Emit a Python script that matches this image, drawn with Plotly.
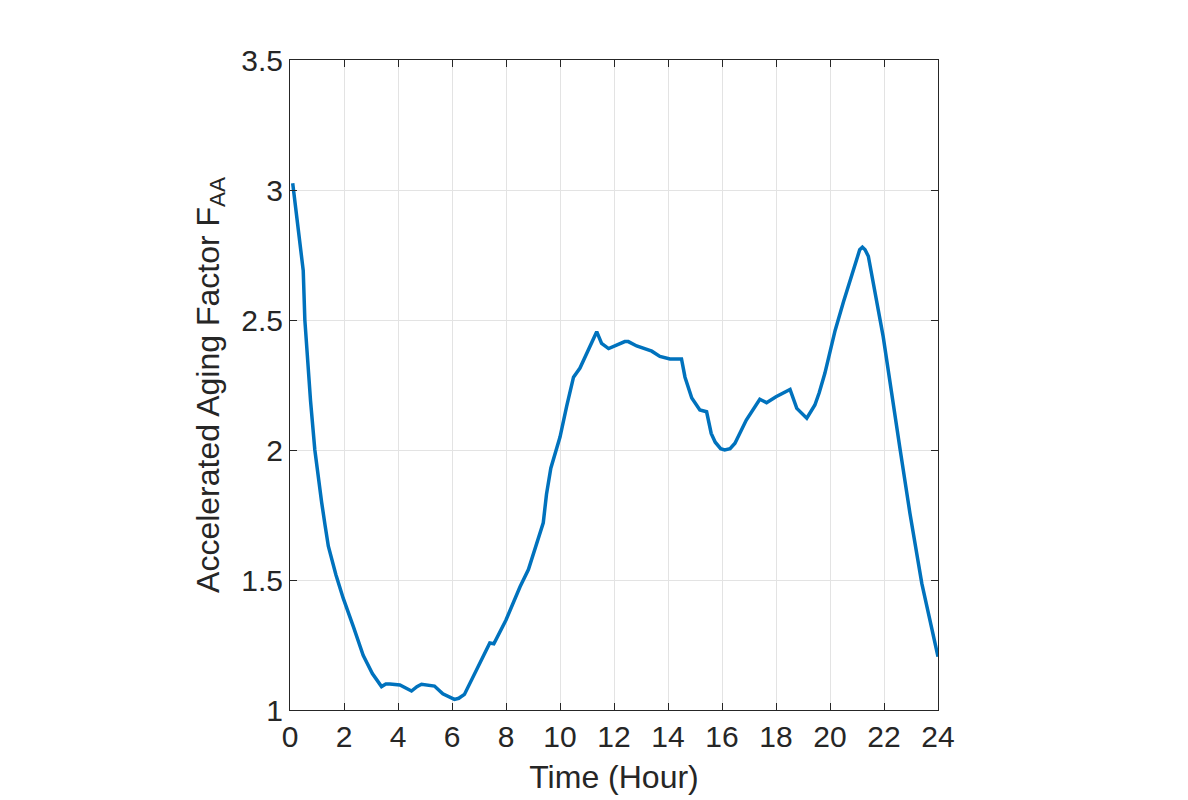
import plotly.graph_objects as go

time_hours = [0.1, 0.49, 0.55, 0.66, 0.76, 0.92, 1.0, 1.17, 1.3, 1.42, 1.7, 1.97, 2.35, 2.71,
              3.05, 3.39, 3.55, 3.7, 4.07, 4.5, 4.7, 4.87, 5.35, 5.66, 6.09, 6.25, 6.46, 7.01,
              7.4, 7.55, 8.0, 8.52, 8.83, 9.38, 9.5, 9.66, 9.85, 10.0, 10.25, 10.5, 10.74,
              11.36, 11.54, 11.8, 12.4, 12.53, 12.84, 13.4, 13.7, 14.07, 14.5, 14.63, 14.88,
              15.18, 15.43, 15.6, 15.75, 15.95, 16.1, 16.3, 16.48, 16.9, 17.4, 17.65, 18.0,
              18.52, 18.77, 19.14, 19.44, 19.6, 19.81, 20.0, 20.19, 20.5, 20.8, 21.1, 21.2,
              21.3, 21.42, 21.97, 22.6, 22.96, 23.4, 24.0]
faa = [3.026, 2.69, 2.5, 2.32, 2.19, 2.0, 1.93, 1.80, 1.71, 1.63, 1.52, 1.43, 1.32, 1.21,
       1.14, 1.09, 1.10, 1.10, 1.096, 1.073, 1.09, 1.099, 1.092, 1.062, 1.041, 1.045, 1.06, 1.18,
       1.258, 1.255, 1.346, 1.474, 1.54, 1.72, 1.83, 1.93, 2.0, 2.05, 2.17, 2.28, 2.315,
       2.455, 2.41, 2.39, 2.417, 2.417, 2.40, 2.38, 2.36, 2.35, 2.35, 2.28, 2.20,
       2.154, 2.147, 2.064, 2.03, 2.005, 2.0, 2.005, 2.026, 2.115, 2.195, 2.182, 2.205,
       2.233, 2.16, 2.122, 2.173, 2.22, 2.295, 2.38, 2.46, 2.57, 2.67, 2.77, 2.78,
       2.77, 2.745, 2.436, 2.0, 1.757, 1.487, 1.205]

x_ticks = list(range(0, 25, 2))
y_ticks = [1, 1.5, 2, 2.5, 3, 3.5]

font_family = "Liberation Sans, Arial, sans-serif"
text_color = "#262626"

fig = go.Figure()
fig.add_trace(go.Scatter(x=time_hours, y=faa, mode="lines",
                         line=dict(color="#0072BD", width=3.5), showlegend=False))

axis_common = dict(
    showline=True, linecolor=text_color, linewidth=1, mirror="ticks",
    ticks="inside", ticklen=7, tickcolor=text_color, tickwidth=1,
    showgrid=True, gridcolor="#e3e3e3", gridwidth=1, zeroline=False,
    tickfont=dict(family=font_family, size=30, color=text_color),
)

fig.update_xaxes(range=[0, 24], tickvals=x_ticks, ticktext=[str(v) for v in x_ticks],
                 title=dict(text="Time (Hour)", font=dict(family=font_family, size=32, color=text_color),
                            standoff=13),
                 **axis_common)
fig.update_yaxes(range=[1, 3.5], tickvals=y_ticks, ticktext=[f"{v:g}" for v in y_ticks],
                 title=dict(text="Accelerated Aging Factor F<sub>AA</sub>",
                            font=dict(family=font_family, size=32, color=text_color), standoff=12),
                 **axis_common)

fig.update_layout(width=1188, height=800, margin=dict(l=290, r=250, t=60, b=90),
                  plot_bgcolor="white", paper_bgcolor="white")

fig.write_html("out.html")
